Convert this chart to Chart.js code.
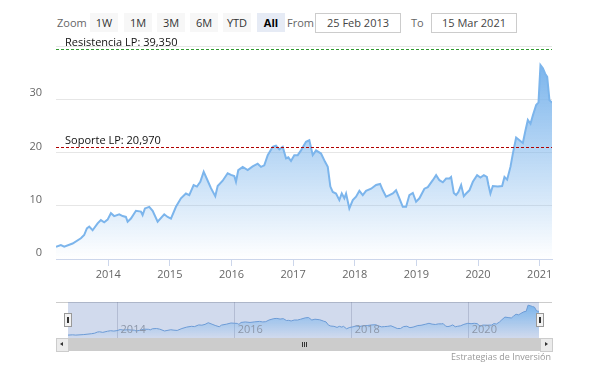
<!DOCTYPE html>
<html>
<head>
<meta charset="utf-8">
<script src="https://cdn.jsdelivr.net/npm/chart.js@4"></script>
<style>
  body { margin: 0; background: #fff; font-family: "Open Sans", sans-serif; }
  #wrap { position: relative; width: 594px; height: 373px; overflow: hidden; }
  canvas { position: absolute; }
  .txt { position: absolute; font-size: 11px; color: #666; white-space: nowrap; }
  .btn { position: absolute; top: 13px; width: 28px; height: 19px; line-height: 19px; text-align: center;
         background: #f7f7f7; color: #333; font-size: 11px; }
  .btn.on { background: #e6ebf5; color: #000; font-weight: bold; }
  .box { position: absolute; top: 13px; height: 18px; line-height: 18px; border: 1px solid #ccc;
         text-align: center; font-size: 11px; color: #444; }
  .handle { position: absolute; top: 313px; width: 6px; height: 12px; background: #f2f2f2; border: 1px solid #999; }
  .handle i { position: absolute; top: 3px; width: 1px; height: 6px; background: #333; }
</style>
</head>
<body>
<div id="wrap">
  <div class="txt" style="left:57px;top:15px;">Zoom</div>
  <div class="btn" style="left:90px;">1W</div>
  <div class="btn" style="left:124px;">1M</div>
  <div class="btn" style="left:157px;">3M</div>
  <div class="btn" style="left:190px;">6M</div>
  <div class="btn" style="left:223px;">YTD</div>
  <div class="btn on" style="left:257px;">All</div>
  <div class="txt" style="left:287px;top:15px;">From</div>
  <div class="box" style="left:315px;width:84px;">25 Feb 2013</div>
  <div class="txt" style="left:411px;top:15px;">To</div>
  <div class="box" style="left:431px;width:84px;">15 Mar 2021</div>

  <canvas id="main" width="594" height="290" style="left:0;top:0;"></canvas>

  <div style="position:absolute;left:56px;top:302px;width:496px;height:1px;background:#ccc;"></div>
  <canvas id="nav" width="471" height="36" style="left:68px;top:302px;"></canvas>
  <div class="handle" style="left:64px;"><i style="left:2px;"></i><i style="left:3px;"></i></div>
  <div class="handle" style="left:536px;"><i style="left:2px;"></i><i style="left:3px;"></i></div>

  <div style="position:absolute;left:56px;top:338px;width:496px;height:13px;background:#f2f2f2;"></div>
  <div style="position:absolute;left:68px;top:338px;width:472px;height:13px;background:#cccccc;"></div>
  <div style="position:absolute;left:302px;top:342px;width:1px;height:5px;background:#333;"></div>
  <div style="position:absolute;left:304px;top:342px;width:1px;height:5px;background:#333;"></div>
  <div style="position:absolute;left:306px;top:342px;width:1px;height:5px;background:#333;"></div>
  <div style="position:absolute;left:56px;top:338px;width:11px;height:12px;background:#ebebeb;border:1px solid #ccc;"></div>
  <div style="position:absolute;left:60px;top:342px;width:0;height:0;border-top:2px solid transparent;border-bottom:2px solid transparent;border-right:3px solid #333;"></div>
  <div style="position:absolute;left:540px;top:338px;width:11px;height:12px;background:#ebebeb;border:1px solid #ccc;"></div>
  <div style="position:absolute;left:545px;top:342px;width:0;height:0;border-top:2px solid transparent;border-bottom:2px solid transparent;border-left:3px solid #333;"></div>

  <div class="txt" style="right:43px;top:350px;font-size:9px;color:#999;">Estrategias de Inversión</div>
</div>

<script>
// fechas en años decimales y cotización
const dates = [2013.153, 2013.232, 2013.286, 2013.422, 2013.557, 2013.610, 2013.654, 2013.692, 2013.747, 2013.828,
  2013.881, 2013.935, 2013.990, 2014.044, 2014.097, 2014.179, 2014.234, 2014.287, 2014.315, 2014.369,
  2014.450, 2014.531, 2014.558, 2014.596, 2014.666, 2014.721, 2014.802, 2014.909, 2014.964, 2015.018,
  2015.099, 2015.180, 2015.261, 2015.315, 2015.386, 2015.440, 2015.494, 2015.549, 2015.614, 2015.667,
  2015.737, 2015.776, 2015.857, 2015.938, 2015.992, 2016.045, 2016.073, 2016.110, 2016.182, 2016.263,
  2016.344, 2016.425, 2016.479, 2016.532, 2016.588, 2016.669, 2016.722, 2016.776, 2016.831, 2016.885,
  2016.922, 2016.966, 2017.019, 2017.075, 2017.128, 2017.209, 2017.263, 2017.318, 2017.372, 2017.453,
  2017.518, 2017.562, 2017.604, 2017.643, 2017.696, 2017.750, 2017.789, 2017.831, 2017.859, 2017.912,
  2017.968, 2018.021, 2018.075, 2018.130, 2018.183, 2018.265, 2018.346, 2018.411, 2018.455, 2018.508,
  2018.562, 2018.617, 2018.670, 2018.724, 2018.779, 2018.833, 2018.886, 2018.942, 2018.995, 2019.049,
  2019.130, 2019.185, 2019.266, 2019.320, 2019.373, 2019.429, 2019.482, 2019.536, 2019.563, 2019.607,
  2019.644, 2019.682, 2019.726, 2019.769, 2019.807, 2019.860, 2019.916, 2019.985, 2020.039, 2020.094,
  2020.143, 2020.169, 2020.201, 2020.240, 2020.321, 2020.391, 2020.429, 2020.472, 2020.526, 2020.565,
  2020.618, 2020.672, 2020.727, 2020.765, 2020.808, 2020.851, 2020.890, 2020.943, 2020.981, 2021.013,
  2021.052, 2021.089, 2021.122, 2021.159, 2021.2];
const values = [2.3, 2.6, 2.3, 2.9, 3.9, 4.5, 5.75, 6.1, 5.4, 6.7,
  7.3, 6.9, 7.4, 8.6, 8.06, 8.4, 8.06, 7.9, 7.0, 7.6,
  9.06, 8.9, 8.25, 9.5, 9.8, 9.06, 7.0, 8.4, 7.9, 7.6,
  9.8, 11.4, 12.3, 12.0, 13.9, 13.6, 14.5, 16.4, 14.7, 13.3,
  11.8, 13.7, 14.7, 16.1, 15.8, 15.6, 14.5, 16.7, 17.3, 16.7,
  17.4, 17.9, 17.3, 17.6, 19.5, 21.06, 21.3, 20.6, 21.06, 18.9,
  19.1, 18.4, 19.5, 19.5, 20.4, 22.0, 22.3, 19.5, 20.4, 19.8,
  18.25, 17.3, 13.6, 12.6, 12.3, 11.06, 12.3, 11.4, 12.3, 9.5,
  11.06, 11.7, 12.8, 12.0, 12.8, 13.2, 13.9, 14.1, 12.9, 11.7,
  12.0, 12.3, 12.9, 11.4, 9.8, 9.8, 12.0, 12.4, 10.75, 11.4,
  13.2, 13.5, 14.8, 15.75, 14.8, 14.4, 15.1, 15.1, 15.4, 12.4,
  12.0, 12.6, 13.9, 11.8, 12.3, 12.9, 14.5, 15.75, 15.3, 15.75,
  15.4, 13.9, 12.3, 13.7, 13.6, 13.7, 15.4, 14.9, 17.3, 19.8,
  22.8, 22.3, 21.8, 23.9, 26.1, 25.4, 27.0, 28.9, 29.4, 36.4,
  35.8, 34.8, 34.2, 29.8, 29.4];

const yearTicks = [2014, 2015, 2016, 2017, 2018, 2019, 2020, 2021];
const navYears = [2014, 2016, 2018, 2020];
const levelValues = [39.35, 20.97];
const levelLabels = ["Resistencia LP: 39,350", "Soporte LP: 20,970"];
const rangeStart = 2013.153;
const rangeEnd = 2021.2;

Chart.defaults.font.family = '"Open Sans", sans-serif';

const points = dates.map((d, i) => ({ x: d, y: values[i] }));
const peak = Math.max(...values);

function areaFill(context) {
  const { ctx, chartArea, scales } = context.chart;
  if (!chartArea) return null;
  const top = scales.y.getPixelForValue(peak);
  const g = ctx.createLinearGradient(0, top, 0, chartArea.bottom);
  g.addColorStop(0, "rgba(124,181,236,1)");
  g.addColorStop(1, "rgba(124,181,236,0)");
  return g;
}

// líneas de soporte / resistencia
const levelLines = {
  id: "levelLines",
  afterDatasetsDraw(chart) {
    const { ctx, chartArea, scales } = chart;
    const colors = ["#2f9a2f", "#b00000"];
    ctx.save();
    levelValues.forEach((v, i) => {
      const y = Math.round(scales.y.getPixelForValue(v)) + 0.5;
      ctx.strokeStyle = colors[i];
      ctx.lineWidth = 1;
      ctx.setLineDash([3, 2]);
      ctx.beginPath();
      ctx.moveTo(chartArea.left, y);
      ctx.lineTo(chartArea.right, y);
      ctx.stroke();
      ctx.setLineDash([]);
      ctx.fillStyle = "#111";
      ctx.font = '11px "Open Sans", sans-serif';
      ctx.textBaseline = "alphabetic";
      ctx.fillText(levelLabels[i], chartArea.left + 9, y - 4);
    });
    ctx.restore();
  }
};

new Chart(document.getElementById("main"), {
  type: "line",
  data: {
    datasets: [{
      data: points,
      borderColor: "#7cb5ec",
      borderWidth: 2,
      pointRadius: 0,
      tension: 0,
      fill: "origin",
      backgroundColor: areaFill
    }]
  },
  options: {
    responsive: false,
    animation: false,
    layout: { padding: { left: 0, right: 42, top: 46, bottom: 0 } },
    plugins: { legend: { display: false }, tooltip: { enabled: false } },
    scales: {
      x: {
        type: "linear",
        min: rangeStart,
        max: rangeEnd,
        afterBuildTicks: s => { s.ticks = yearTicks.map(v => ({ value: v })); },
        afterFit: s => { s.height = 31; },
        ticks: { color: "#666", font: { size: 11 }, padding: 2, autoSkip: false, maxRotation: 0,
                 callback: v => String(v) },
        grid: { drawOnChartArea: false, drawTicks: true, tickLength: 7, color: "#ccd6eb" },
        border: { display: true, color: "#ccd6eb" }
      },
      y: {
        min: 0,
        max: 40,
        afterFit: s => { s.width = 56; },
        ticks: { stepSize: 10, color: "#666", font: { size: 11 }, padding: 14, labelOffset: -6,
                 callback: v => (v === 40 ? "" : v) },
        grid: { color: "#e6e6e6", drawTicks: false },
        border: { display: false }
      }
    }
  },
  plugins: [levelLines]
});

// navegador
const navBack = {
  id: "navBack",
  beforeDraw(chart) {
    const { ctx, chartArea } = chart;
    ctx.save();
    ctx.fillStyle = "rgba(102,133,194,0.3)";
    ctx.fillRect(chartArea.left, chartArea.top, chartArea.right - chartArea.left, chartArea.bottom - chartArea.top);
    ctx.restore();
  },
  afterDraw(chart) {
    const { ctx, chartArea, scales } = chart;
    ctx.save();
    ctx.fillStyle = "#8c96a8";
    ctx.font = '11px "Open Sans", sans-serif';
    ctx.textBaseline = "middle";
    navYears.forEach(v => {
      ctx.fillText(String(v), scales.x.getPixelForValue(v) + 3, chartArea.bottom - 8);
    });
    ctx.restore();
  }
};

new Chart(document.getElementById("nav"), {
  type: "line",
  data: {
    datasets: [{
      data: points,
      borderColor: "#6c9bd6",
      borderWidth: 1,
      pointRadius: 0,
      tension: 0,
      fill: "start",
      backgroundColor: areaFill
    }]
  },
  options: {
    responsive: false,
    animation: false,
    layout: { padding: 0 },
    plugins: { legend: { display: false }, tooltip: { enabled: false } },
    scales: {
      x: {
        type: "linear",
        min: rangeStart,
        max: rangeEnd,
        afterBuildTicks: s => { s.ticks = navYears.map(v => ({ value: v })); },
        afterFit: s => { s.height = 0; },
        ticks: { display: false },
        grid: { color: "rgba(110,120,150,0.3)", drawTicks: false },
        border: { display: false }
      },
      y: { display: false, min: -1, max: 40 }
    }
  },
  plugins: [navBack]
});
</script>
</body>
</html>
